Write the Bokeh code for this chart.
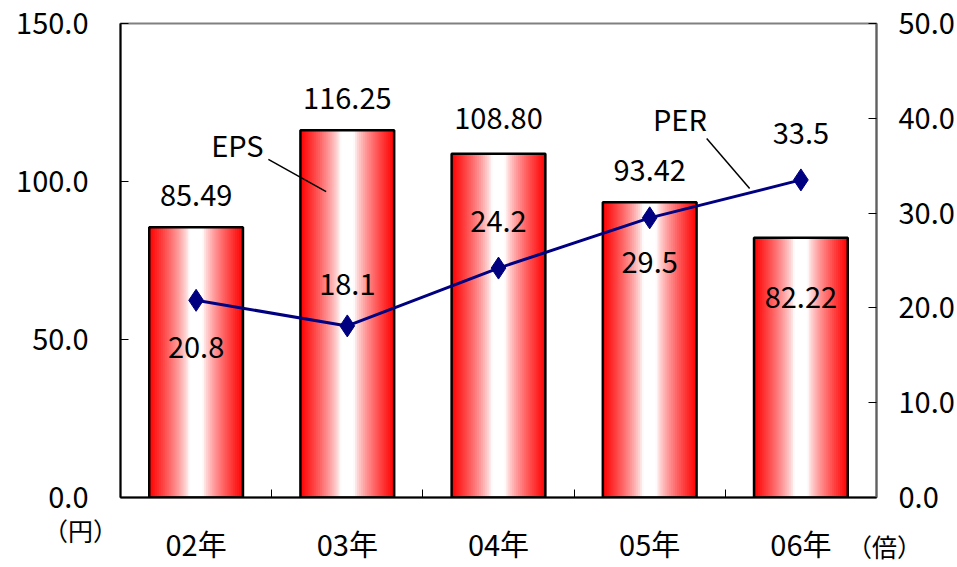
from bokeh.plotting import figure
from bokeh.models import (Range1d, LinearAxis, FixedTicker, PrintfTickFormatter,
                          Label, ColumnDataSource)
from bokeh.embed import file_html
from bokeh.resources import INLINE
from bokeh.core.properties import value

# ---- data ----
years = ["02年", "03年", "04年", "05年", "06年"]
eps = [85.49, 116.25, 108.80, 93.42, 82.22]
per = [20.8, 18.1, 24.2, 29.5, 33.5]
eps_labels = ["85.49", "116.25", "108.80", "93.42", "82.22"]
per_labels = ["20.8", "18.1", "24.2", "29.5", "33.5"]
left_ticks = [0, 50, 100, 150]
right_ticks = [0, 10, 20, 30, 40, 50]
unit_texts = ["（円）", "（倍）"]

# label pixel offsets (style/placement)
eps_label_dy = [-32, -32, -35, -32, 60]
per_label_dy = [47, -41, -47, 45, -46]

FONT = "Noto Sans CJK JP"
FS = "29px"
BAR_W = 0.62
N_STRIPS = 48

n = len(years)
centers = [i + 0.5 for i in range(n)]

p = figure(width=957, height=567, x_range=Range1d(0, n), y_range=Range1d(0, 150),
           output_backend="svg", toolbar_location=None,
           min_border_left=120, min_border_right=80, min_border_top=23,
           min_border_bottom=70)
p.extra_y_ranges = {"per": Range1d(0, 50)}
p.xgrid.visible = False
p.ygrid.visible = False
p.outline_line_color = "#808080"
p.outline_line_width = 2
p.background_fill_color = "white"
p.border_fill_color = "white"

# ---- gradient bars built from overlapping vertical strips ----
sl, sr, st, sc = [], [], [], []
dw = BAR_W / N_STRIPS
for c, v in zip(centers, eps):
    for k in range(N_STRIPS):
        t = (k + 0.5) / N_STRIPS
        f = (abs(t - 0.5) - 0.07) / 0.43
        f = max(0.0, min(1.0, f)) ** 0.75
        g = int(round(255 * (1 - f)))
        sl.append(c - BAR_W / 2 + k * dw)
        sr.append(c + BAR_W / 2)
        st.append(v)
        sc.append("#%02x%02x%02x" % (255, g, g))
p.quad(left=sl, right=sr, bottom=0, top=st, fill_color=sc, line_color=None)
p.vbar(x=centers, width=BAR_W, top=eps, bottom=0, fill_color=None,
       line_color="black", line_width=2.5)

# ---- PER line ----
p.line(x=centers, y=per, y_range_name="per", line_color="#000080", line_width=3)
p.scatter(x=centers, y=per, y_range_name="per", marker="diamond", size=22,
          fill_color="#000080", line_color="#000080")

# ---- data labels ----
src_e = ColumnDataSource(dict(x=centers, y=eps, t=eps_labels, dy=eps_label_dy))
p.text(x="x", y="y", text="t", y_offset="dy", source=src_e, text_align="center",
       text_baseline="middle", text_font=value(FONT), text_font_size=FS,
       text_color="black")
src_p = ColumnDataSource(dict(x=centers, y=per, t=per_labels, dy=per_label_dy))
p.text(x="x", y="y", text="t", y_offset="dy", source=src_p, y_range_name="per",
       text_align="center", text_baseline="middle", text_font=value(FONT),
       text_font_size=FS, text_color="black")

# ---- callouts ----
p.segment(x0=[0.978], y0=[107.0], x1=[1.36], y1=[96.8], line_color="black", line_width=1.5)
p.segment(x0=[3.877], y0=[113.6], x1=[4.161], y1=[97.8], line_color="black", line_width=1.5)
p.add_layout(Label(x=0.773, y=112, text="EPS", text_align="center", text_baseline="middle",
                   text_font=FONT, text_font_size=FS, text_color="black"))
p.add_layout(Label(x=3.70, y=120, text="PER", text_align="center", text_baseline="middle",
                   text_font=FONT, text_font_size=FS, text_color="black"))

# ---- axes ----
xa = p.xaxis[0]
xa.ticker = FixedTicker(ticks=centers, minor_ticks=list(range(n + 1)))
xa.major_label_overrides = {c: y for c, y in zip(centers, years)}
xa.major_tick_in = 0
xa.major_tick_out = 0
xa.minor_tick_in = 8
xa.minor_tick_out = 0
xa.minor_tick_line_color = "black"
xa.axis_line_color = "black"
xa.axis_line_width = 2
xa.major_label_standoff = 24
xa.major_label_text_font = FONT
xa.major_label_text_font_size = FS
xa.major_label_text_color = "black"

ya = p.yaxis[0]
ya.ticker = FixedTicker(ticks=left_ticks)
ya.formatter = PrintfTickFormatter(format="%.1f")
ya.major_tick_in = 8
ya.major_tick_out = 0
ya.minor_tick_line_color = None
ya.axis_line_color = "black"
ya.axis_line_width = 2
ya.major_label_standoff = 32
ya.major_label_text_font = FONT
ya.major_label_text_font_size = FS
ya.major_label_text_color = "black"

ra = LinearAxis(y_range_name="per", ticker=FixedTicker(ticks=right_ticks),
                formatter=PrintfTickFormatter(format="%.1f"))
ra.major_tick_in = 8
ra.major_tick_out = 0
ra.minor_tick_line_color = None
ra.axis_line_color = "#606060"
ra.axis_line_width = 2
ra.major_label_standoff = 22
ra.major_label_text_font = FONT
ra.major_label_text_font_size = FS
ra.major_label_text_color = "black"
p.add_layout(ra, "right")

# ---- unit labels outside the frame (overlay level is not clipped) ----
p.text(x=[-0.264, 5.053], y=[-10.4, -15.5], text=unit_texts, level="overlay",
       text_align="center", text_baseline="middle", text_font=value(FONT),
       text_font_size="25px", text_color="black")
# cut-off page mark at the bottom-right corner
p.text(x=[5.58], y=[-29.4], text=["4"], level="overlay", text_align="right",
       text_baseline="alphabetic", text_font=value("Liberation Serif"),
       text_font_style="italic", text_font_size="60px", text_color="black")

open("out.html", "w").write(file_html(p, INLINE))
